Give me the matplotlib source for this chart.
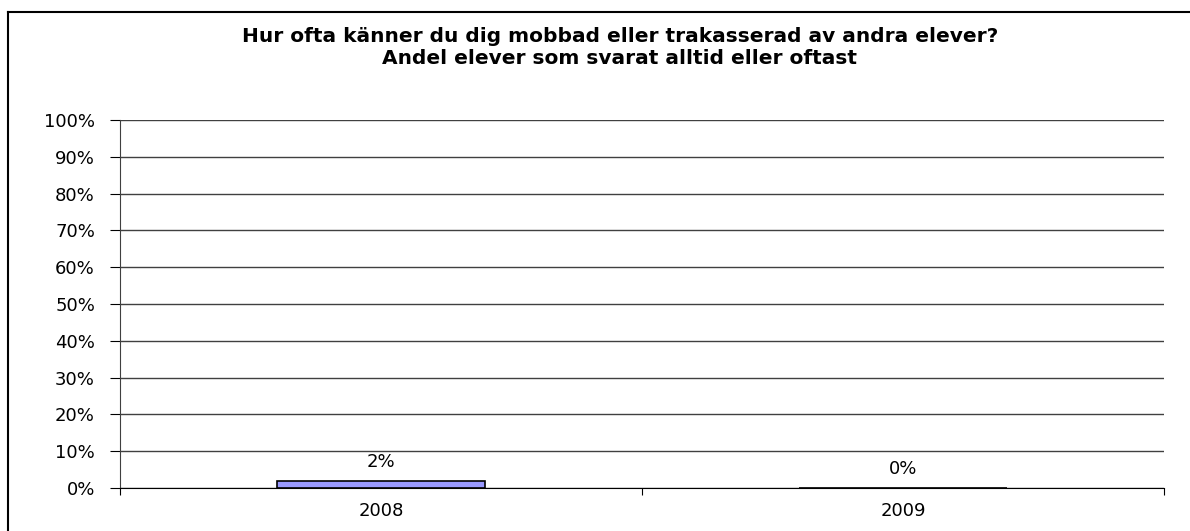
import matplotlib
matplotlib.use("Agg")
import matplotlib.pyplot as plt
from matplotlib.lines import Line2D
from matplotlib.ticker import FuncFormatter, MultipleLocator

categories = ["2008", "2009"]
values = [2, 0]
bar_labels = ["2%", "0%"]
title_lines = ["Hur ofta känner du dig mobbad eller trakasserad av andra elever?",
               "Andel elever som svarat alltid eller oftast"]

plt.rcParams['font.family'] = ['DejaVu Sans']

W, H = 1190, 531
fig = plt.figure(figsize=(W / 100, H / 100), dpi=100)
ax = fig.add_axes([120 / W, 1 - 488 / H, (1164 - 120) / W, (488 - 120) / H])
ax.set_axisbelow(True)

x = list(range(len(categories)))
ax.bar(x, values, width=0.4, color='#9999FF', edgecolor='black', linewidth=1.2, zorder=2)
for xi, v, lab in zip(x, values, bar_labels):
    ax.text(xi, v + 2.6, lab, ha='center', va='bottom', fontsize=13, color='black')

ax.set_xlim(-0.5, len(categories) - 0.5)
ax.set_ylim(0, 100)
ax.yaxis.set_major_locator(MultipleLocator(10))
ax.yaxis.set_major_formatter(FuncFormatter(lambda v, p: f"{int(round(v))}%"))
ax.grid(axis='y', color='#404040', linewidth=1.0)
ax.set_xticks([-0.5, 0.5, 1.5])
ax.set_xticklabels([])
ax.set_xticks(x, minor=True)
ax.set_xticklabels(categories, minor=True)
ax.tick_params(axis='x', which='major', length=5, direction='out', color='black')
ax.tick_params(axis='x', which='minor', length=0, pad=10, labelsize=13)
ax.tick_params(axis='y', length=7, direction='out', labelsize=13, pad=11)
for s in ['top', 'right']:
    ax.spines[s].set_visible(False)
ax.spines['left'].set_color('#404040')
ax.spines['bottom'].set_color('black')
ax.spines['bottom'].set_zorder(3)

fig.text(620 / W, 1 - 36 / H, title_lines[0], ha='center', va='center',
         fontsize=14.5, fontweight='bold')
fig.text(620 / W, 1 - 58 / H, title_lines[1], ha='center', va='center',
         fontsize=14.5, fontweight='bold')

fig.add_artist(Line2D([8 / W, 8 / W], [0, 1 - 12 / H], transform=fig.transFigure,
                      color='black', linewidth=1.5))
fig.add_artist(Line2D([8 / W, 1], [1 - 12 / H, 1 - 12 / H], transform=fig.transFigure,
                      color='black', linewidth=1.5))

fig.savefig("out.png", dpi=100)
